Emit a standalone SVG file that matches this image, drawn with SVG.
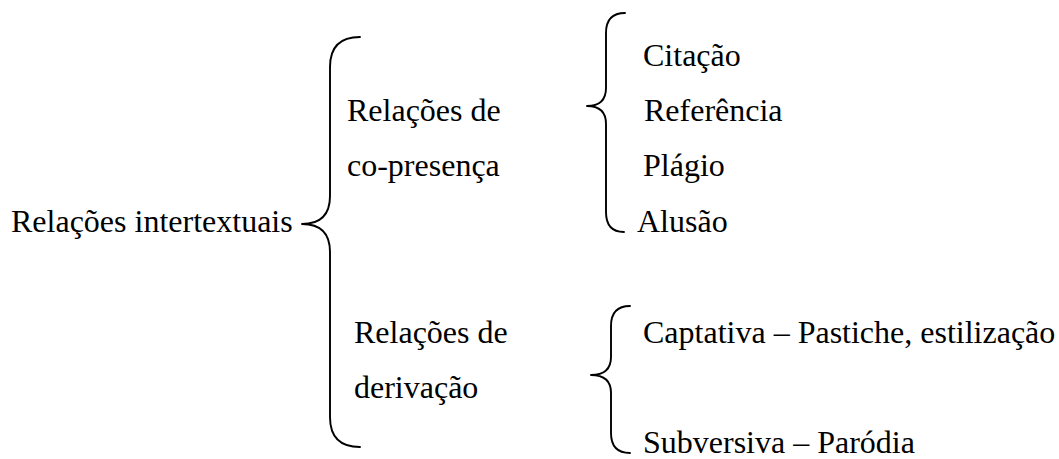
<svg xmlns="http://www.w3.org/2000/svg" width="1059" height="459" viewBox="0 0 1059 459">
<style>
  .t { font-family: "Liberation Serif", "Times New Roman", serif; font-size: 32px; fill: #000; }
  .brace { fill: none; stroke: #000; stroke-width: 1.9; stroke-linecap: round; stroke-linejoin: round; }
</style>
<rect width="1059" height="459" fill="#fff"/>
<g id="connectors">
  <path class="brace" d="M360,37 Q330,37 330,67 L330,196 Q330,224 302,224 Q330,224 330,252 L330,417 Q330,447 360,447"/>
  <path class="brace" d="M625,13 Q606,13 606,33 L606,88 Q606,106 587,106 Q606,106 606,124 L606,212 Q606,232 624,232"/>
  <path class="brace" d="M630,306 Q611,306 611,326 L611,357 Q611,375 591,375 Q611,375 611,393 L611,433 Q611,453 630,453"/>
</g>
<g id="root"><text class="t" x="11" y="232">Relações intertextuais</text></g>
<g id="copresenca"><text class="t" x="347" y="121">Relações de</text><text class="t" x="347" y="176">co-presença</text></g>
<g id="derivacao"><text class="t" x="354" y="343">Relações de</text><text class="t" x="354" y="398">derivação</text></g>
<g id="citacao"><text class="t" x="643" y="66">Citação</text></g>
<g id="referencia"><text class="t" x="644" y="121">Referência</text></g>
<g id="plagio"><text class="t" x="643" y="176">Plágio</text></g>
<g id="alusao"><text class="t" x="637" y="232">Alusão</text></g>
<g id="captativa"><text class="t" x="643" y="343">Captativa – Pastiche, estilização</text></g>
<g id="subversiva"><text class="t" x="643" y="453">Subversiva – Paródia</text></g>
</svg>
